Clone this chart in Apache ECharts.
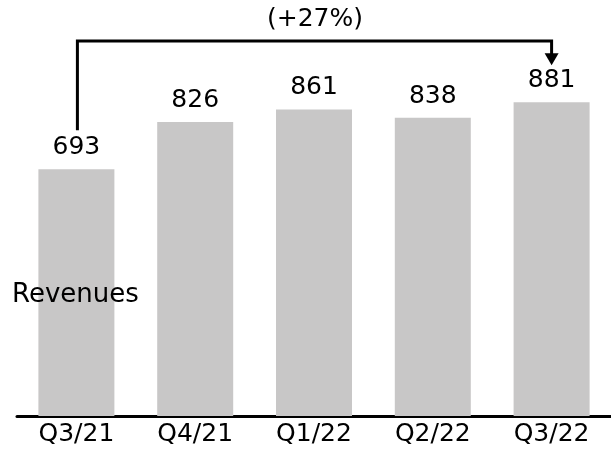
<!DOCTYPE html>
<html>
<head>
<meta charset="utf-8">
<script src="https://cdn.jsdelivr.net/npm/echarts@6/dist/echarts.min.js"></script>
<style>
  html, body { margin: 0; padding: 0; background: #ffffff; }
  #chart { width: 611px; height: 451px; }
</style>
</head>
<body>
<div id="chart"></div>
<script>
// Quarterly revenues
const quarters = ['Q3/21', 'Q4/21', 'Q1/22', 'Q2/22', 'Q3/22'];
const revenues = [693, 826, 861, 838, 881];
const growthLabel = '(+27%)';
const seriesName = 'Revenues';

const FONT = '"DejaVu Sans", Verdana, sans-serif';
const chart = echarts.init(document.getElementById('chart'), null, { renderer: 'canvas' });

// Bracket arrow from the first quarter to the last one, anchored above both bars
function renderBracket(params, api) {
  const start = api.coord([api.value(0), api.value(1)]);
  const end = api.coord([api.value(2), api.value(3)]);
  const topY = 41;
  const x0 = start[0] + 1;
  const y0 = start[1] - 39;
  const x1 = end[0];
  const tipY = end[1] - 37;
  const headH = 12;
  return {
    type: 'group',
    children: [
      {
        type: 'polyline',
        shape: { points: [[x0, y0], [x0, topY], [x1, topY], [x1, tipY - headH + 1]] },
        style: { stroke: '#000', lineWidth: 3, fill: null, lineJoin: 'miter' }
      },
      {
        type: 'polygon',
        shape: { points: [[x1 - 7, tipY - headH], [x1 + 7, tipY - headH], [x1, tipY]] },
        style: { fill: '#000' }
      },
      {
        type: 'text',
        style: {
          text: growthLabel, x: 315, y: 19,
          align: 'center', verticalAlign: 'middle',
          font: '25px ' + FONT, fill: '#000'
        }
      }
    ]
  };
}

chart.setOption({
  animation: false,
  backgroundColor: '#ffffff',
  title: {
    text: seriesName,
    left: 7, top: 277,
    textStyle: { fontFamily: FONT, fontSize: 26, fontWeight: 'normal', color: '#000' }
  },
  grid: { left: 17, right: -3, top: 60, bottom: 35, containLabel: false },
  xAxis: {
    type: 'category',
    data: quarters,
    axisLine: { lineStyle: { color: '#000', width: 3 } },
    axisTick: { show: false },
    axisLabel: { fontFamily: FONT, fontSize: 25, color: '#000', margin: 6 }
  },
  yAxis: {
    type: 'value', min: 0, max: 1000,
    show: false, splitLine: { show: false }
  },
  series: [
    {
      type: 'bar',
      name: seriesName,
      data: revenues,
      barWidth: 76,
      itemStyle: { color: '#c8c7c7' },
      label: {
        show: true, position: 'top', distance: 9,
        fontFamily: FONT, fontSize: 25, color: '#000'
      }
    },
    {
      type: 'custom',
      renderItem: renderBracket,
      data: [[0, revenues[0], quarters.length - 1, revenues[revenues.length - 1]]],
      encode: { x: [0, 2], y: [1, 3] },
      z: 5,
      silent: true
    }
  ]
});
</script>
</body>
</html>
